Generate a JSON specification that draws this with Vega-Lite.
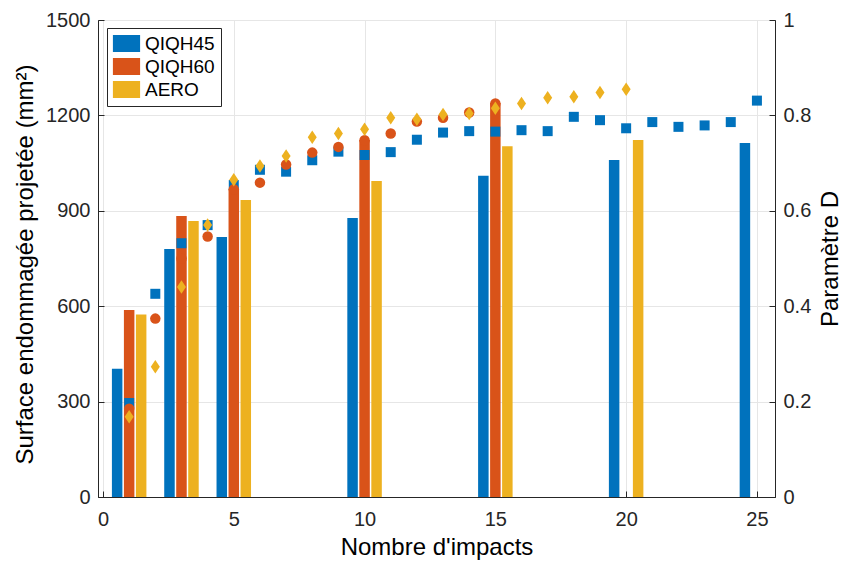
{
  "$schema": "https://vega.github.io/schema/vega-lite/v6.json",
  "width": 677,
  "height": 477,
  "autosize": {"type": "none"},
  "padding": {"left": 98, "top": 20, "right": 67, "bottom": 64},
  "background": "white",
  "config": {
    "font": "Liberation Sans",
    "view": {"stroke": "#262626", "strokeWidth": 1},
    "axis": {
      "labelFont": "Liberation Sans",
      "titleFont": "Liberation Sans",
      "labelFontSize": 20,
      "titleFontSize": 24,
      "titleFontWeight": "normal",
      "labelColor": "#262626",
      "titleColor": "#000000",
      "domainColor": "#262626",
      "tickColor": "#262626",
      "gridColor": "#e6e6e6",
      "gridWidth": 1
    }
  },
  "datasets": {
    "bars": [
      {"impacts": 1, "serie": "QIQH45", "surface": 403},
      {"impacts": 1, "serie": "QIQH60", "surface": 588},
      {"impacts": 1, "serie": "AERO", "surface": 574},
      {"impacts": 3, "serie": "QIQH45", "surface": 780},
      {"impacts": 3, "serie": "QIQH60", "surface": 884},
      {"impacts": 3, "serie": "AERO", "surface": 868},
      {"impacts": 5, "serie": "QIQH45", "surface": 818},
      {"impacts": 5, "serie": "QIQH60", "surface": 968},
      {"impacts": 5, "serie": "AERO", "surface": 934},
      {"impacts": 10, "serie": "QIQH45", "surface": 877},
      {"impacts": 10, "serie": "QIQH60", "surface": 1123},
      {"impacts": 10, "serie": "AERO", "surface": 994},
      {"impacts": 15, "serie": "QIQH45", "surface": 1010},
      {"impacts": 15, "serie": "QIQH60", "surface": 1239},
      {"impacts": 15, "serie": "AERO", "surface": 1103},
      {"impacts": 20, "serie": "QIQH45", "surface": 1060},
      {"impacts": 20, "serie": "AERO", "surface": 1123},
      {"impacts": 25, "serie": "QIQH45", "surface": 1113}
    ],
    "points": [
      {"impacts": 1, "serie": "QIQH45", "D": 0.197},
      {"impacts": 2, "serie": "QIQH45", "D": 0.426},
      {"impacts": 3, "serie": "QIQH45", "D": 0.532},
      {"impacts": 4, "serie": "QIQH45", "D": 0.570},
      {"impacts": 5, "serie": "QIQH45", "D": 0.654},
      {"impacts": 6, "serie": "QIQH45", "D": 0.686},
      {"impacts": 7, "serie": "QIQH45", "D": 0.682},
      {"impacts": 8, "serie": "QIQH45", "D": 0.706},
      {"impacts": 9, "serie": "QIQH45", "D": 0.724},
      {"impacts": 10, "serie": "QIQH45", "D": 0.717},
      {"impacts": 11, "serie": "QIQH45", "D": 0.723},
      {"impacts": 12, "serie": "QIQH45", "D": 0.749},
      {"impacts": 13, "serie": "QIQH45", "D": 0.764},
      {"impacts": 14, "serie": "QIQH45", "D": 0.767},
      {"impacts": 15, "serie": "QIQH45", "D": 0.766},
      {"impacts": 16, "serie": "QIQH45", "D": 0.769},
      {"impacts": 17, "serie": "QIQH45", "D": 0.767},
      {"impacts": 18, "serie": "QIQH45", "D": 0.797},
      {"impacts": 19, "serie": "QIQH45", "D": 0.790},
      {"impacts": 20, "serie": "QIQH45", "D": 0.773},
      {"impacts": 21, "serie": "QIQH45", "D": 0.786},
      {"impacts": 22, "serie": "QIQH45", "D": 0.776},
      {"impacts": 23, "serie": "QIQH45", "D": 0.779},
      {"impacts": 24, "serie": "QIQH45", "D": 0.786},
      {"impacts": 25, "serie": "QIQH45", "D": 0.831},
      {"impacts": 1, "serie": "QIQH60", "D": 0.185},
      {"impacts": 2, "serie": "QIQH60", "D": 0.374},
      {"impacts": 3, "serie": "QIQH60", "D": 0.50},
      {"impacts": 4, "serie": "QIQH60", "D": 0.546},
      {"impacts": 5, "serie": "QIQH60", "D": 0.645},
      {"impacts": 6, "serie": "QIQH60", "D": 0.659},
      {"impacts": 7, "serie": "QIQH60", "D": 0.697},
      {"impacts": 8, "serie": "QIQH60", "D": 0.722},
      {"impacts": 9, "serie": "QIQH60", "D": 0.734},
      {"impacts": 10, "serie": "QIQH60", "D": 0.748},
      {"impacts": 11, "serie": "QIQH60", "D": 0.762},
      {"impacts": 12, "serie": "QIQH60", "D": 0.787},
      {"impacts": 13, "serie": "QIQH60", "D": 0.795},
      {"impacts": 14, "serie": "QIQH60", "D": 0.806},
      {"impacts": 15, "serie": "QIQH60", "D": 0.825},
      {"impacts": 1, "serie": "AERO", "D": 0.168},
      {"impacts": 2, "serie": "AERO", "D": 0.273},
      {"impacts": 3, "serie": "AERO", "D": 0.440},
      {"impacts": 4, "serie": "AERO", "D": 0.570},
      {"impacts": 5, "serie": "AERO", "D": 0.665},
      {"impacts": 6, "serie": "AERO", "D": 0.694},
      {"impacts": 7, "serie": "AERO", "D": 0.715},
      {"impacts": 8, "serie": "AERO", "D": 0.754},
      {"impacts": 9, "serie": "AERO", "D": 0.762},
      {"impacts": 10, "serie": "AERO", "D": 0.771},
      {"impacts": 11, "serie": "AERO", "D": 0.795},
      {"impacts": 12, "serie": "AERO", "D": 0.792},
      {"impacts": 13, "serie": "AERO", "D": 0.802},
      {"impacts": 14, "serie": "AERO", "D": 0.804},
      {"impacts": 15, "serie": "AERO", "D": 0.815},
      {"impacts": 16, "serie": "AERO", "D": 0.825},
      {"impacts": 17, "serie": "AERO", "D": 0.837},
      {"impacts": 18, "serie": "AERO", "D": 0.839},
      {"impacts": 19, "serie": "AERO", "D": 0.848},
      {"impacts": 20, "serie": "AERO", "D": 0.855}
    ]
  },
  "layer": [
    {
      "data": {"name": "bars"},
      "encoding": {
        "x": {
          "field": "impacts", "type": "quantitative",
          "scale": {"domain": [0, 25.5], "nice": false, "zero": false},
          "axis": {"values": [0, 5, 10, 15, 20, 25], "grid": true, "title": "Nombre d'impacts", "tickSize": -6, "labelPadding": 18, "titlePadding": 6}
        },
        "y": {
          "field": "surface", "type": "quantitative",
          "scale": {"domain": [0, 1500], "nice": false},
          "axis": {"values": [0, 300, 600, 900, 1200, 1500], "format": "d", "grid": true, "title": "Surface endommagée projetée (mm²)", "titleY": 244, "tickSize": -6, "labelPadding": 14, "titlePadding": 8}
        },
        "color": {
          "field": "serie", "type": "nominal",
          "scale": {"domain": ["QIQH45", "QIQH60", "AERO"], "range": ["#0072BD", "#D95319", "#EDB120"]},
          "legend": {
            "title": null,
            "orient": "none",
            "legendX": 9,
            "legendY": 8,
            "symbolType": "M-1.6,-1H1.6V1H-1.6Z",
            "symbolSize": 289,
            "symbolStrokeWidth": 0,
            "symbolOffset": 4,
            "labelFontSize": 19,
            "labelFont": "Liberation Sans",
            "labelColor": "#000000",
            "rowPadding": 3,
            "strokeColor": "#262626",
            "fillColor": "white",
            "padding": 6,
            "labelOffset": 9
          }
        }
      },
      "layer": [
        {"transform": [{"filter": "datum.serie === 'QIQH45'"}], "mark": {"type": "bar", "size": 10.5, "xOffset": -12}},
        {"transform": [{"filter": "datum.serie === 'QIQH60'"}], "mark": {"type": "bar", "size": 10.5, "xOffset": 0}},
        {"transform": [{"filter": "datum.serie === 'AERO'"}], "mark": {"type": "bar", "size": 10.5, "xOffset": 12}}
      ]
    },
    {
      "data": {"name": "points"},
      "encoding": {
        "x": {"field": "impacts", "type": "quantitative"},
        "y": {
          "field": "D", "type": "quantitative",
          "scale": {"domain": [0, 1], "nice": false},
          "axis": {"orient": "right", "values": [0, 0.2, 0.4, 0.6, 0.8, 1], "format": "~g", "grid": false, "title": "Paramètre D", "titleAngle": 270, "titleBaseline": "top", "tickSize": -6, "labelPadding": 14, "titlePadding": 8}
        }
      },
      "layer": [
        {"transform": [{"filter": "datum.serie === 'QIQH45'"}], "mark": {"type": "point", "shape": "square", "filled": true, "size": 100, "color": "#0072BD", "opacity": 1}},
        {"transform": [{"filter": "datum.serie === 'QIQH60'"}], "mark": {"type": "point", "shape": "circle", "filled": true, "size": 110, "color": "#D95319", "opacity": 1}},
        {"transform": [{"filter": "datum.serie === 'AERO'"}], "mark": {"type": "point", "shape": "M0,-1.35L0.9,0L0,1.35L-0.9,0Z", "filled": true, "size": 100, "color": "#EDB120", "opacity": 1}}
      ]
    }
  ],
  "resolve": {"scale": {"y": "independent"}}
}
